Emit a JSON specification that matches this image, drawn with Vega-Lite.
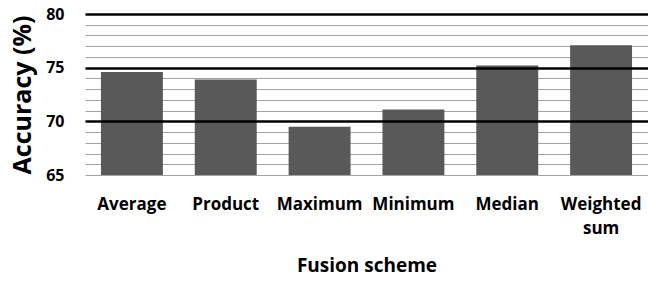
{
  "$schema": "https://vega.github.io/schema/vega-lite/v6.json",
  "autosize": "none",
  "width": 563,
  "height": 161,
  "padding": {"left": 85, "top": 14, "right": 0, "bottom": 106},
  "background": "white",
  "config": {"view": {"stroke": null}, "font": "Open Sans"},
  "data": {
    "values": [
      {"scheme": "Average", "accuracy": 74.6},
      {"scheme": "Product", "accuracy": 73.9},
      {"scheme": "Maximum", "accuracy": 69.5},
      {"scheme": "Minimum", "accuracy": 71.1},
      {"scheme": "Median", "accuracy": 75.2},
      {"scheme": "Weighted sum", "accuracy": 77.1}
    ]
  },
  "mark": {"type": "bar", "color": "#595959"},
  "encoding": {
    "x": {
      "field": "scheme",
      "type": "nominal",
      "sort": null,
      "scale": {"paddingInner": 0.34, "paddingOuter": 0.17},
      "axis": {
        "title": "Fusion scheme",
        "titleFont": "Open Sans",
        "titleFontSize": 19,
        "titleFontWeight": "bold",
        "titleColor": "black",
        "titlePadding": 20,
        "labelAngle": 0,
        "labelFont": "Open Sans",
        "labelFontSize": 17,
        "labelFontWeight": "bold",
        "labelColor": "black",
        "labelPadding": 21,
        "labelLineHeight": 24,
        "labelExpr": "datum.label == 'Weighted sum' ? ['Weighted', 'sum'] : datum.label",
        "ticks": false,
        "domain": false
      }
    },
    "y": {
      "field": "accuracy",
      "type": "quantitative",
      "scale": {"domain": [65, 80], "zero": false, "nice": false},
      "axis": {
        "title": "Accuracy (%)",
        "titleFont": "Open Sans",
        "titleFontSize": 25,
        "titleFontWeight": "bold",
        "titleColor": "black",
        "titlePadding": 10,
        "values": [65, 66, 67, 68, 69, 70, 71, 72, 73, 74, 75, 76, 77, 78, 79, 80],
        "labelExpr": "datum.value % 5 === 0 ? datum.label : ''",
        "labelFont": "Open Sans",
        "labelFontSize": 16,
        "labelFontWeight": "bold",
        "labelColor": "black",
        "labelPadding": 21,
        "ticks": false,
        "domain": false,
        "zindex": 1,
        "grid": true,
        "gridColor": {"condition": {"test": "datum.value % 5 === 0 && datum.value > 65", "value": "black"}, "value": "#555555"},
        "gridOpacity": {"condition": {"test": "datum.value % 5 === 0 && datum.value > 65", "value": 1}, "value": 0.55},
        "gridWidth": {"condition": {"test": "datum.value % 5 === 0 && datum.value > 65", "value": 2.4}, "value": 1.2}
      }
    },
    "y2": {"datum": 65}
  }
}
